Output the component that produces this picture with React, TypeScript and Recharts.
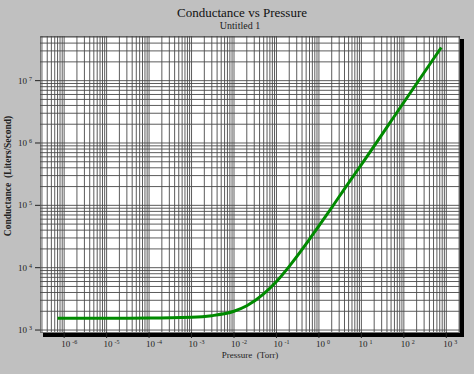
import React from "react";
import { LineChart, Line, XAxis, YAxis, CartesianGrid } from "recharts";

const pressureTorr = [7e-7, 1e-6, 1e-5, 1e-4, 1e-3, 3e-3, 1e-2, 2e-2, 5e-2, 1e-1, 2e-1, 5e-1, 1, 2, 5, 10, 100, 760];
const conductanceLps = [1550, 1550, 1550, 1555, 1600, 1700, 2000, 2450, 3800, 6000, 10500, 24000, 47000, 92000, 230000, 450000, 4500000, 34000000];

const xTickExponents = [-6, -5, -4, -3, -2, -1, 0, 1, 2, 3];
const yTickExponents = [3, 4, 5, 6, 7];

const title = "Conductance vs Pressure";
const subtitle = "Untitled 1";
const xLabel = "Pressure  (Torr)";
const yLabel = "Conductance  (Liters/Second)";

const X_DOMAIN: [number, number] = [2.7e-7, 2.1e3];
const Y_DOMAIN: [number, number] = [930, 5.2e7];

const data = pressureTorr.map((p, i) => ({ p, c: conductanceLps[i] }));

function logGrid(minExp: number, maxExp: number, lo: number, hi: number) {
  const out: number[] = [];
  for (let e = minExp; e <= maxExp; e++) {
    for (let m = 1; m <= 9; m++) {
      const v = m * Math.pow(10, e);
      if (v > lo && v < hi) out.push(v);
    }
  }
  return out;
}

const xGrid = logGrid(-7, 3, X_DOMAIN[0], X_DOMAIN[1]);
const yGrid = logGrid(2, 7, Y_DOMAIN[0], Y_DOMAIN[1]);

const FONT = "Liberation Serif, Times New Roman, serif";
const serif: React.CSSProperties = { fontFamily: FONT, whiteSpace: "pre" };

const XTick = (props: any) => {
  const { x, y, payload } = props;
  const exp = Math.round(Math.log10(payload.value));
  return (
    <text x={x - 3} y={y + 7} style={serif} fontSize={9} fill="#222">
      10
      <tspan dx={2} dy={-3} fontSize={6}>{exp}</tspan>
    </text>
  );
};

const YTick = (props: any) => {
  const { x, y, payload } = props;
  const exp = Math.round(Math.log10(payload.value));
  return (
    <text x={x - 15} y={y + 3} style={serif} fontSize={9} fill="#222">
      10
      <tspan dx={2} dy={-3} fontSize={6}>{exp}</tspan>
    </text>
  );
};

export default function App() {
  return (
    <div style={{ position: "absolute", left: 0, top: 0, width: 474, height: 374, background: "#c0c0c0", overflow: "hidden" }}>
      <div style={{ position: "absolute", left: 43, top: 39, width: 421, height: 298, background: "#000" }} />
      <div style={{ position: "absolute", left: 40, top: 36, width: 420, height: 297, background: "#fff", boxSizing: "border-box", border: "1px solid #777" }} />
      <div style={{ position: "absolute", left: 0, top: 0 }}>
        <LineChart width={474} height={374} data={data} margin={{ top: 36, right: 14, bottom: 0, left: 0 }}>
          <CartesianGrid
            stroke="#4a4a4a"
            strokeWidth={0.9}
            horizontalValues={yGrid}
            verticalValues={xGrid}
          />
          <XAxis
            dataKey="p"
            type="number"
            scale="log"
            domain={X_DOMAIN}
            ticks={xTickExponents.map((e) => Math.pow(10, e))}
            allowDataOverflow
            height={42}
            axisLine={false}
            tickLine={{ stroke: "#222" }}
            tickSize={6}
            tick={<XTick />}
            interval={0}
          />
          <YAxis
            dataKey="c"
            type="number"
            scale="log"
            domain={Y_DOMAIN}
            ticks={yTickExponents.map((e) => Math.pow(10, e))}
            allowDataOverflow
            width={40}
            axisLine={false}
            tickLine={{ stroke: "#222" }}
            tickSize={5}
            tick={<YTick />}
            interval={0}
          />
          <Line
            dataKey="c"
            type="monotone"
            stroke="#008a00"
            strokeWidth={3}
            dot={false}
            isAnimationActive={false}
          />
          <text x={242} y={17} textAnchor="middle" style={serif} fontSize={13} fill="#111">{title}</text>
          <text x={240} y={29} textAnchor="middle" style={serif} fontSize={10} fill="#222">{subtitle}</text>
          <text x={250} y={358} textAnchor="middle" style={serif} fontSize={9} fill="#222">{xLabel}</text>
          <text
            x={11}
            y={176}
            textAnchor="middle"
            style={serif}
            fontSize={9.5}
            fontWeight="bold"
            fill="#222"
            transform="rotate(-90 11 176)"
          >
            {yLabel}
          </text>
        </LineChart>
      </div>
    </div>
  );
}
